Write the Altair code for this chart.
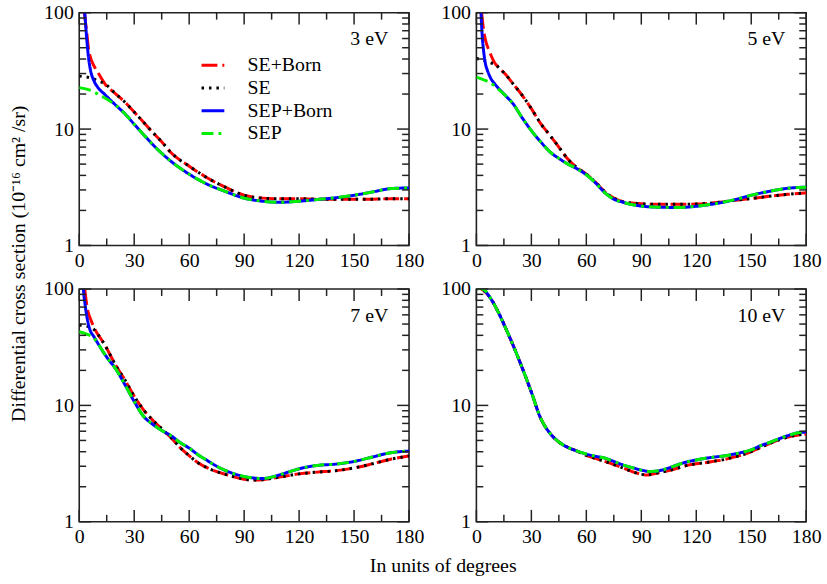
import altair as alt
import pandas as pd

FONT = "Liberation Serif"
SERIES = ["SE+Born", "SE", "SEP+Born", "SEP"]
COLORS = ["#ff0000", "#000000", "#0000ff", "#00ee00"]
DASHES = [[16, 5], [2.5, 5], [1, 0], [12, 5, 3, 5]]
ENERGIES = ["3 eV", "5 eV", "7 eV", "10 eV"]

X_MAJOR = [0, 30, 60, 90, 120, 150, 180]
X_MINOR = [15, 45, 75, 105, 135, 165]
Y_MAJOR = [1, 10, 100]
Y_MINOR = [2, 3, 4, 5, 6, 7, 8, 9, 20, 30, 40, 50, 60, 70, 80, 90]

# ---------------- 3 eV ----------------
ANG_3_SEB = [2, 3, 4, 5, 6, 8, 10, 12, 14, 20, 25, 30, 35, 40, 45, 50, 60, 70, 80, 90, 100, 110, 120, 130, 140, 150, 160, 170, 180]
DCS_3_SEB = [150, 95, 70, 50, 42, 35, 31, 27.5, 24.5, 20, 17, 14, 11.5, 9.4, 7.8, 6.3, 4.8, 3.8, 3.15, 2.7, 2.55, 2.52, 2.52, 2.5, 2.5, 2.5, 2.5, 2.52, 2.52]
ANG_3_SE = [0, 5, 8, 10, 14, 20, 25, 30, 35, 40, 45, 50, 60, 70, 80, 90, 100, 110, 120, 130, 140, 150, 160, 170, 180]
DCS_3_SE = [28.5, 27.8, 27, 26, 24.5, 20, 17, 14, 11.5, 9.4, 7.8, 6.3, 4.8, 3.8, 3.15, 2.7, 2.55, 2.52, 2.52, 2.5, 2.5, 2.5, 2.5, 2.52, 2.52]
ANG_3_SEPB = [2, 3, 4, 5, 6, 8, 10, 14, 20, 25, 30, 35, 40, 45, 50, 60, 70, 80, 90, 100, 110, 120, 130, 140, 150, 160, 170, 180]
DCS_3_SEPB = [150, 100, 62, 42, 33, 26, 23, 19.8, 16, 13.5, 11, 9.0, 7.4, 6.2, 5.3, 4.1, 3.35, 2.9, 2.55, 2.4, 2.35, 2.4, 2.48, 2.57, 2.7, 2.88, 3.08, 3.12]
ANG_3_SEP = [0, 5, 8, 10, 14, 17, 20, 25, 30, 35, 40, 45, 50, 60, 70, 80, 90, 100, 110, 120, 130, 140, 150, 160, 170, 180]
DCS_3_SEP = [22.7, 21.8, 21, 20, 18.5, 17.3, 16, 13.5, 11, 9.0, 7.4, 6.2, 5.3, 4.1, 3.35, 2.9, 2.55, 2.4, 2.35, 2.4, 2.48, 2.57, 2.7, 2.88, 3.08, 3.12]

# ---------------- 5 eV ----------------
ANG_5_SEB = [2, 3, 4, 5, 7, 10, 12, 16, 20, 25, 30, 35, 40, 45, 50, 55, 60, 65, 70, 75, 80, 90, 100, 110, 120, 130, 140, 150, 160, 170, 180]
DCS_5_SEB = [150, 95, 70, 58, 47, 37, 34, 29.4, 24.5, 19.5, 15, 11.2, 8.9, 7.0, 5.5, 4.65, 4.1, 3.5, 2.9, 2.55, 2.38, 2.28, 2.26, 2.26, 2.27, 2.33, 2.43, 2.53, 2.65, 2.75, 2.83]
ANG_5_SE = [0, 4, 8, 10, 12, 16, 20, 25, 30, 35, 40, 45, 50, 55, 60, 65, 70, 75, 80, 90, 100, 110, 120, 130, 140, 150, 160, 170, 180]
DCS_5_SE = [40.5, 39, 37, 36.5, 34, 29.4, 24.5, 19.5, 15, 11.2, 8.9, 7.0, 5.5, 4.65, 4.1, 3.5, 2.9, 2.55, 2.38, 2.28, 2.26, 2.26, 2.27, 2.33, 2.43, 2.53, 2.65, 2.75, 2.83]
ANG_5_SEPB = [2, 2.5, 3, 4, 5, 6, 8, 10, 15, 20, 25, 30, 35, 40, 45, 50, 55, 60, 65, 70, 75, 80, 90, 100, 110, 120, 130, 140, 150, 160, 170, 180]
DCS_5_SEPB = [150, 100, 70, 46, 36, 32, 27, 24.5, 20, 16.5, 12.5, 9.7, 7.8, 6.4, 5.6, 5.0, 4.55, 4.05, 3.45, 2.85, 2.5, 2.35, 2.18, 2.13, 2.12, 2.17, 2.28, 2.45, 2.7, 2.92, 3.1, 3.17]
ANG_5_SEP = [0, 4, 7, 10, 12, 15, 20, 25, 30, 35, 40, 45, 50, 55, 60, 65, 70, 75, 80, 90, 100, 110, 120, 130, 140, 150, 160, 170, 180]
DCS_5_SEP = [28, 26.5, 25.3, 23.5, 22, 20, 16.5, 12.5, 9.7, 7.8, 6.4, 5.6, 5.0, 4.55, 4.05, 3.45, 2.85, 2.5, 2.35, 2.18, 2.13, 2.12, 2.17, 2.28, 2.45, 2.7, 2.92, 3.1, 3.17]

# ---------------- 7 eV ----------------
ANG_7_SEB = [2, 3, 4, 5, 6, 8, 10, 12, 14, 17, 20, 25, 30, 35, 40, 45, 50, 55, 60, 65, 70, 75, 80, 85, 90, 95, 100, 105, 110, 120, 130, 140, 150, 160, 170, 180]
DCS_7_SEB = [150, 100, 75, 62, 56, 47, 41, 37, 33, 27, 22, 16.5, 12, 9.2, 7.5, 6.3, 5.3, 4.35, 3.7, 3.2, 2.9, 2.7, 2.55, 2.42, 2.32, 2.28, 2.3, 2.36, 2.43, 2.58, 2.67, 2.75, 2.9, 3.15, 3.45, 3.68]
ANG_7_SE = [0, 5, 8, 10, 12, 14, 17, 20, 25, 30, 35, 40, 45, 50, 55, 60, 65, 70, 75, 80, 85, 90, 95, 100, 105, 110, 120, 130, 140, 150, 160, 170, 180]
DCS_7_SE = [49, 47.5, 45, 41, 37, 33, 27, 22, 16.5, 12, 9.2, 7.5, 6.3, 5.3, 4.35, 3.7, 3.2, 2.9, 2.7, 2.55, 2.42, 2.32, 2.28, 2.3, 2.36, 2.43, 2.58, 2.67, 2.75, 2.9, 3.15, 3.45, 3.68]
ANG_7_SEPB = [2, 2.3, 3, 4, 5, 6, 8, 11, 15, 20, 25, 30, 35, 40, 45, 50, 55, 60, 65, 70, 75, 80, 85, 90, 95, 100, 105, 110, 115, 120, 125, 130, 140, 150, 160, 170, 180]
DCS_7_SEPB = [150, 100, 78, 60, 50, 44, 39, 32.5, 26, 20.5, 15, 10.8, 8.1, 6.9, 6.1, 5.5, 4.8, 4.3, 3.75, 3.35, 3.0, 2.75, 2.57, 2.45, 2.38, 2.35, 2.42, 2.55, 2.7, 2.85, 2.97, 3.05, 3.13, 3.3, 3.6, 3.92, 4.05]
ANG_7_SEP = [0, 4, 7, 10, 11, 15, 20, 25, 30, 35, 40, 45, 50, 55, 60, 65, 70, 75, 80, 85, 90, 95, 100, 105, 110, 115, 120, 125, 130, 140, 150, 160, 170, 180]
DCS_7_SEP = [43, 41, 39, 34.5, 32.5, 26, 20.5, 15, 10.8, 8.1, 6.9, 6.1, 5.5, 4.8, 4.3, 3.75, 3.35, 3.0, 2.75, 2.57, 2.45, 2.38, 2.35, 2.42, 2.55, 2.7, 2.85, 2.97, 3.05, 3.13, 3.3, 3.6, 3.92, 4.05]

# ---------------- 10 eV ----------------
ANG_10_SEB = [0, 4, 8, 12, 16, 20, 25, 30, 35, 40, 45, 50, 55, 60, 65, 70, 75, 80, 85, 90, 93, 95, 100, 105, 110, 115, 120, 125, 130, 135, 140, 145, 150, 155, 160, 165, 170, 175, 180]
DCS_10_SEB = [104, 97, 82, 63, 46, 33, 21, 13, 7.8, 5.8, 4.85, 4.35, 4.05, 3.72, 3.5, 3.3, 3.1, 2.9, 2.7, 2.56, 2.52, 2.55, 2.65, 2.75, 2.9, 3.05, 3.15, 3.22, 3.32, 3.42, 3.58, 3.75, 4.0, 4.35, 4.7, 5.05, 5.35, 5.55, 5.65]
ANG_10_SE = ANG_10_SEB
DCS_10_SE = [101, 97, 82, 63, 46, 33, 21, 13, 7.8, 5.8, 4.85, 4.35, 4.05, 3.72, 3.5, 3.3, 3.1, 2.9, 2.7, 2.56, 2.52, 2.55, 2.65, 2.75, 2.9, 3.05, 3.15, 3.22, 3.32, 3.42, 3.58, 3.75, 4.0, 4.35, 4.7, 5.05, 5.35, 5.55, 5.65]
ANG_10_SEPB = [0, 4, 8, 12, 16, 20, 25, 30, 35, 40, 45, 50, 55, 60, 65, 70, 75, 80, 85, 90, 95, 100, 105, 110, 115, 120, 125, 130, 135, 140, 145, 150, 155, 160, 165, 170, 175, 180]
DCS_10_SEPB = [110, 99, 82, 63, 46, 33, 21, 13, 7.8, 5.8, 4.85, 4.35, 4.05, 3.82, 3.65, 3.53, 3.3, 3.08, 2.92, 2.78, 2.7, 2.75, 2.9, 3.1, 3.27, 3.4, 3.51, 3.6, 3.68, 3.8, 3.95, 4.15, 4.5, 4.8, 5.15, 5.5, 5.8, 5.9]
ANG_10_SEP = ANG_10_SEPB
DCS_10_SEP = [102, 99, 82, 63, 46, 33, 21, 13, 7.8, 5.8, 4.85, 4.35, 4.05, 3.82, 3.65, 3.53, 3.3, 3.08, 2.92, 2.78, 2.7, 2.75, 2.9, 3.1, 3.27, 3.4, 3.51, 3.6, 3.68, 3.8, 3.95, 4.15, 4.5, 4.8, 5.15, 5.5, 5.8, 5.9]

CURVES = {
    "3 eV": [(ANG_3_SEB, DCS_3_SEB), (ANG_3_SE, DCS_3_SE), (ANG_3_SEPB, DCS_3_SEPB), (ANG_3_SEP, DCS_3_SEP)],
    "5 eV": [(ANG_5_SEB, DCS_5_SEB), (ANG_5_SE, DCS_5_SE), (ANG_5_SEPB, DCS_5_SEPB), (ANG_5_SEP, DCS_5_SEP)],
    "7 eV": [(ANG_7_SEB, DCS_7_SEB), (ANG_7_SE, DCS_7_SE), (ANG_7_SEPB, DCS_7_SEPB), (ANG_7_SEP, DCS_7_SEP)],
    "10 eV": [(ANG_10_SEB, DCS_10_SEB), (ANG_10_SE, DCS_10_SE), (ANG_10_SEPB, DCS_10_SEPB), (ANG_10_SEP, DCS_10_SEP)],
}

W, H = 333, 235
MAJ, MIN = 12, 7
FS = 20
YTITLE = "Differential cross section (10\u207b\u00b9\u2076 cm\u00b2 /sr)"
XTITLE = "In units of degrees"

color_scale = alt.Scale(domain=SERIES, range=COLORS)
dash_scale = alt.Scale(domain=SERIES, range=DASHES)


def make_panel(energy, show_legend, ytitle, xtitle):
    xaxis_kw = dict(values=X_MAJOR, ticks=False, domain=False, grid=False,
                    labelFont=FONT, labelFontSize=FS, labelColor="black",
                    labelPadding=5, labelFlush=False, labelOverlap=False)
    if xtitle:
        xaxis_kw.update(title=xtitle, titleFont=FONT, titleFontSize=FS, titleFontWeight="normal",
                        titleColor="black", titleX=W + 34, titleY=44, titleAlign="center",
                        titleBaseline="middle")
    else:
        xaxis_kw.update(title=None)
    yaxis_kw = dict(values=Y_MAJOR, format="d", ticks=False, domain=False, grid=False,
                    labelFont=FONT, labelFontSize=FS, labelColor="black",
                    labelPadding=6, labelFlush=False, labelOverlap=False)
    if ytitle:
        yaxis_kw.update(title=ytitle, titleFont=FONT, titleFontSize=FS, titleFontWeight="normal",
                        titleColor="black", titleX=-61, titleY=H + 18, titleAngle=270,
                        titleAlign="center", titleBaseline="middle")
    else:
        yaxis_kw.update(title=None)

    X = alt.X("angle:Q", scale=alt.Scale(domain=[0, 180], nice=False, zero=False),
              axis=alt.Axis(**xaxis_kw))
    Y = alt.Y("dcs:Q", scale=alt.Scale(type="log", domain=[1, 100], nice=False),
              axis=alt.Axis(**yaxis_kw))

    if show_legend:
        leg = alt.Legend(orient="none", legendX=122, legendY=40, title=None,
                         symbolType="stroke", symbolSize=529, symbolStrokeWidth=3,
                         labelFont=FONT, labelFontSize=FS, labelColor="black",
                         labelOffset=22, rowPadding=0, padding=0)
    else:
        leg = None

    layers = []
    for name, (ang, val) in zip(SERIES, CURVES[energy]):
        df = pd.DataFrame({"angle": ang, "dcs": val, "series": name})
        layers.append(
            alt.Chart(df).mark_line(clip=True, strokeWidth=3, interpolate="monotone").encode(
                x=X, y=Y,
                color=alt.Color("series:N", scale=color_scale, legend=leg),
                strokeDash=alt.StrokeDash("series:N", scale=dash_scale, legend=leg),
            )
        )

    xmaj = pd.DataFrame({"angle": X_MAJOR})
    xmin = pd.DataFrame({"angle": X_MINOR})
    ymaj = pd.DataFrame({"dcs": Y_MAJOR})
    ymin = pd.DataFrame({"dcs": Y_MINOR})
    tick_style = dict(color="#222222", strokeWidth=1.5)
    for d, L in ((xmaj, MAJ), (xmin, MIN)):
        layers.append(alt.Chart(d).mark_rule(**tick_style).encode(
            x=X, y=alt.value(H), y2=alt.value(H - L)))
        layers.append(alt.Chart(d).mark_rule(**tick_style).encode(
            x=X, y=alt.value(0), y2=alt.value(L)))
    for d, L in ((ymaj, MAJ), (ymin, MIN)):
        layers.append(alt.Chart(d).mark_rule(**tick_style).encode(
            y=Y, x=alt.value(0), x2=alt.value(L)))
        layers.append(alt.Chart(d).mark_rule(**tick_style).encode(
            y=Y, x=alt.value(W), x2=alt.value(W - L)))

    lab = pd.DataFrame({"label": [energy]})
    layers.append(alt.Chart(lab).mark_text(align="right", baseline="middle", font=FONT,
                                           fontSize=FS, color="black").encode(
        text="label:N", x=alt.value(W - 21), y=alt.value(27)))

    return alt.layer(*layers).properties(width=W, height=H)


p1 = make_panel("3 eV", True, YTITLE, None)
p2 = make_panel("5 eV", False, None, None)
p3 = make_panel("7 eV", False, None, XTITLE)
p4 = make_panel("10 eV", False, None, None)

chart = alt.concat(p1, p2, p3, p4, columns=2, spacing={"row": 44, "column": 68},
                   bounds="flush").resolve_scale(
    color="independent", strokeDash="independent"
).resolve_legend(
    color="independent", strokeDash="independent"
).properties(
    padding={"left": 8, "top": -1, "right": 5, "bottom": 5},
    background="white",
).configure_view(stroke="#222222", strokeWidth=1.6)

chart.save("out.html", embed_options={"renderer": "svg", "actions": False})
